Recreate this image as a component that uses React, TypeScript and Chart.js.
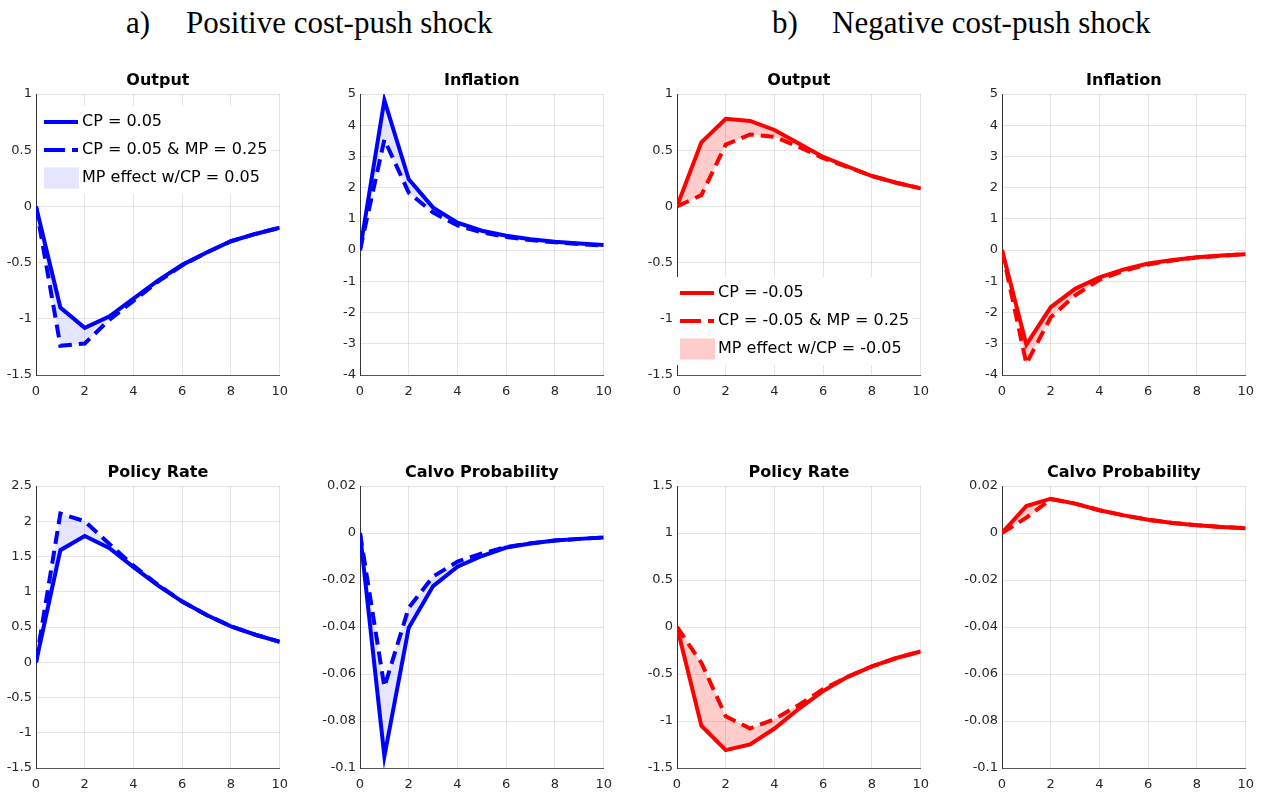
import React, { useEffect, useRef } from 'react';
import { Chart, registerables } from 'chart.js';

Chart.register(...registerables);

const FONT = "'DejaVu Sans', 'Noto Sans', sans-serif";
const SERIF = "'Liberation Serif', 'Times New Roman', serif";

// ---------- data ----------
const periods = [0, 1, 2, 3, 4, 5, 6, 7, 8, 9, 10];
const xTicks = [0, 2, 4, 6, 8, 10];

const outputTicks = [-1.5, -1, -0.5, 0, 0.5, 1];
const inflationTicks = [-4, -3, -2, -1, 0, 1, 2, 3, 4, 5];
const posRateTicks = [-1.5, -1, -0.5, 0, 0.5, 1, 1.5, 2, 2.5];
const negRateTicks = [-1.5, -1, -0.5, 0, 0.5, 1, 1.5];
const calvoTicks = [-0.1, -0.08, -0.06, -0.04, -0.02, 0, 0.02];

const posOutputCP = [0, -0.9, -1.08, -0.98, -0.82, -0.66, -0.52, -0.41, -0.31, -0.245, -0.19];
const posOutputMP = [0, -1.24, -1.22, -1.01, -0.84, -0.67, -0.525, -0.41, -0.31, -0.245, -0.19];
const posInflCP = [0, 4.8, 2.27, 1.36, 0.88, 0.62, 0.46, 0.35, 0.27, 0.21, 0.16];
const posInflMP = [0, 3.54, 1.84, 1.2, 0.79, 0.57, 0.42, 0.32, 0.25, 0.19, 0.15];
const posRateCP = [0, 1.59, 1.79, 1.62, 1.35, 1.09, 0.86, 0.67, 0.51, 0.39, 0.29];
const posRateMP = [0, 2.11, 2.0, 1.68, 1.37, 1.1, 0.86, 0.67, 0.51, 0.39, 0.29];
const posCalvoCP = [0, -0.095, -0.0403, -0.0226, -0.0143, -0.0098, -0.0062, -0.0045, -0.0032, -0.0025, -0.0019];
const posCalvoMP = [0, -0.0655, -0.0318, -0.0185, -0.0122, -0.0087, -0.006, -0.0044, -0.0032, -0.0025, -0.0019];

const negOutputCP = [0, 0.57, 0.78, 0.76, 0.68, 0.56, 0.44, 0.355, 0.27, 0.21, 0.16];
const negOutputMP = [0, 0.1, 0.55, 0.64, 0.62, 0.53, 0.43, 0.35, 0.27, 0.21, 0.16];
const negInflCP = [0, -3.03, -1.83, -1.24, -0.87, -0.62, -0.43, -0.32, -0.23, -0.17, -0.13];
const negInflMP = [0, -3.64, -2.15, -1.45, -0.95, -0.66, -0.46, -0.33, -0.24, -0.18, -0.13];
const negRateCP = [0, -1.05, -1.31, -1.25, -1.08, -0.87, -0.68, -0.53, -0.42, -0.33, -0.26];
const negRateMP = [0, -0.38, -0.95, -1.08, -0.98, -0.83, -0.66, -0.53, -0.42, -0.33, -0.26];
const negCalvoCP = [0, 0.0115, 0.0146, 0.0125, 0.0097, 0.0075, 0.0056, 0.0043, 0.0033, 0.0026, 0.002];
const negCalvoMP = [0, 0.0065, 0.0144, 0.0125, 0.0097, 0.0075, 0.0056, 0.0043, 0.0033, 0.0026, 0.002];

const posLegend = ['CP = 0.05', 'CP = 0.05 & MP = 0.25', 'MP effect w/CP = 0.05'];
const negLegend = ['CP = -0.05', 'CP = -0.05 & MP = 0.25', 'MP effect w/CP = -0.05'];

const headings = [
  { tag: 'a)', text: 'Positive cost-push shock' },
  { tag: 'b)', text: 'Negative cost-push shock' },
];

// ---------- styles ----------
const BLUE = '#0000ff';
const RED = '#ff0000';
const BLUE_FILL = 'rgba(0,0,255,0.1)';
const RED_FILL = 'rgba(255,0,0,0.2)';
const LW = 4;

type LegendSpec = { labels: string[]; x: number; y: number; gap: number };
type PanelSpec = {
  title: string;
  cp: number[];
  mp: number[];
  ticks: number[];
  color: string;
  fill: string;
  left: number;
  top: number;
  width: number;
  height: number;
  legend?: LegendSpec;
};

const colLeft = [36, 360, 677, 1002];
const rowTop = [94, 486];
const PW = 246;
const PH = [281, 282];

const panels: PanelSpec[] = [
  { title: 'Output', cp: posOutputCP, mp: posOutputMP, ticks: outputTicks, color: BLUE, fill: BLUE_FILL, left: colLeft[0], top: rowTop[0], width: PW, height: PH[0], legend: { labels: posLegend, x: 8, y: 28, gap: 28 } },
  { title: 'Inflation', cp: posInflCP, mp: posInflMP, ticks: inflationTicks, color: BLUE, fill: BLUE_FILL, left: colLeft[1], top: rowTop[0], width: PW, height: PH[0] },
  { title: 'Output', cp: negOutputCP, mp: negOutputMP, ticks: outputTicks, color: RED, fill: RED_FILL, left: colLeft[2], top: rowTop[0], width: PW, height: PH[0], legend: { labels: negLegend, x: 3, y: 199, gap: 28 } },
  { title: 'Inflation', cp: negInflCP, mp: negInflMP, ticks: inflationTicks, color: RED, fill: RED_FILL, left: colLeft[3], top: rowTop[0], width: PW, height: PH[0] },
  { title: 'Policy Rate', cp: posRateCP, mp: posRateMP, ticks: posRateTicks, color: BLUE, fill: BLUE_FILL, left: colLeft[0], top: rowTop[1], width: PW, height: PH[1] },
  { title: 'Calvo Probability', cp: posCalvoCP, mp: posCalvoMP, ticks: calvoTicks, color: BLUE, fill: BLUE_FILL, left: colLeft[1], top: rowTop[1], width: PW, height: PH[1] },
  { title: 'Policy Rate', cp: negRateCP, mp: negRateMP, ticks: negRateTicks, color: RED, fill: RED_FILL, left: colLeft[2], top: rowTop[1], width: PW, height: PH[1] },
  { title: 'Calvo Probability', cp: negCalvoCP, mp: negCalvoMP, ticks: calvoTicks, color: RED, fill: RED_FILL, left: colLeft[3], top: rowTop[1], width: PW, height: PH[1] },
];

const PAD_L = 45;
const PAD_T = 30;
const PAD_R = 15;
const PAD_B = 28;

const decorPlugin = {
  id: 'decor',
  afterDraw(chart: any, _args: any, opts: any) {
    const { ctx, chartArea } = chart;
    ctx.save();
    ctx.fillStyle = '#000';
    ctx.font = `bold 16px ${FONT}`;
    ctx.textAlign = 'center';
    ctx.textBaseline = 'middle';
    ctx.fillText(opts.title, (chartArea.left + chartArea.right) / 2, chartArea.top - 13);
    const lg = opts.legend;
    if (lg) {
      ctx.font = `16px ${FONT}`;
      const x0 = chartArea.left + lg.x;
      const maxW = Math.max(...lg.labels.map((l: string) => ctx.measureText(l).width));
      const y0 = chartArea.top + lg.y;
      ctx.fillStyle = '#ffffff';
      ctx.fillRect(x0 - 5, y0 - 16, 38 + maxW + 8, lg.gap * (lg.labels.length - 1) + 32);
      lg.labels.forEach((lab: string, i: number) => {
        const cy = y0 + i * lg.gap;
        if (i < 2) {
          ctx.strokeStyle = opts.color;
          ctx.lineWidth = LW;
          ctx.setLineDash(i === 1 ? [21, 7] : []);
          ctx.beginPath();
          ctx.moveTo(x0, cy);
          ctx.lineTo(x0 + 34, cy);
          ctx.stroke();
          ctx.setLineDash([]);
        } else {
          ctx.fillStyle = opts.fill;
          ctx.fillRect(x0, cy - 10.5, 35, 21);
        }
        ctx.fillStyle = '#000';
        ctx.textAlign = 'left';
        ctx.textBaseline = 'middle';
        ctx.fillText(lab, x0 + 38, cy);
      });
    }
    ctx.restore();
  },
};

const fmt = (v: number) => String(Number(v.toFixed(4)));

function Panel({ spec }: { spec: PanelSpec }) {
  const ref = useRef<HTMLCanvasElement | null>(null);
  const cw = spec.width + PAD_L + PAD_R;
  const ch = spec.height + PAD_T + PAD_B;
  useEffect(() => {
    if (!ref.current) return;
    const chart = new Chart(ref.current, {
      type: 'line',
      data: {
        datasets: [
          {
            label: 'cp',
            data: periods.map((p, i) => ({ x: p, y: spec.cp[i] })),
            borderColor: spec.color,
            borderWidth: LW,
            pointRadius: 0,
            tension: 0,
            fill: false,
          },
          {
            label: 'mp',
            data: periods.map((p, i) => ({ x: p, y: spec.mp[i] })),
            borderColor: spec.color,
            borderWidth: LW,
            borderDash: [13, 7],
            pointRadius: 0,
            tension: 0,
            fill: '-1',
            backgroundColor: spec.fill,
          },
        ],
      },
      options: {
        animation: false,
        responsive: false,
        maintainAspectRatio: false,
        layout: { padding: { left: 0, top: PAD_T, right: PAD_R, bottom: 0 } },
        plugins: {
          legend: { display: false },
          tooltip: { enabled: false },
          title: { display: false },
          decor: { title: spec.title, legend: spec.legend, color: spec.color, fill: spec.fill },
        } as any,
        scales: {
          x: {
            type: 'linear',
            min: 0,
            max: 10,
            afterBuildTicks: (s: any) => { s.ticks = xTicks.map((v) => ({ value: v })); },
            afterFit: (s: any) => { s.height = PAD_B; },
            grid: { color: 'rgba(38,38,38,0.12)', drawTicks: false, lineWidth: 1 },
            border: { display: true, color: '#555555', width: 1 },
            ticks: { color: '#262626', font: { family: FONT, size: 13 }, padding: 9, maxRotation: 0, callback: (v: any) => fmt(Number(v)) },
          },
          y: {
            type: 'linear',
            min: spec.ticks[0],
            max: spec.ticks[spec.ticks.length - 1],
            afterBuildTicks: (s: any) => { s.ticks = spec.ticks.map((v) => ({ value: v })); },
            afterFit: (s: any) => { s.width = PAD_L; },
            grid: { color: 'rgba(38,38,38,0.12)', drawTicks: false, lineWidth: 1 },
            border: { display: true, color: '#333333', width: 1 },
            ticks: { color: '#262626', font: { family: FONT, size: 13 }, padding: 4, callback: (v: any) => fmt(Number(v)) },
          },
        },
      } as any,
      plugins: [decorPlugin as any],
    });
    return () => chart.destroy();
  }, [spec]);
  return (
    <canvas
      ref={ref}
      width={cw}
      height={ch}
      style={{ position: 'absolute', left: spec.left - PAD_L, top: spec.top - PAD_T, width: cw, height: ch }}
    />
  );
}

export default function App() {
  const headPos = [
    { tagX: 126, textX: 186 },
    { tagX: 772, textX: 832 },
  ];
  return (
    <div style={{ position: 'fixed', left: 0, top: 0, width: 1265, height: 792, background: '#ffffff', overflow: 'hidden' }}>
      {headings.map((h, i) => (
        <React.Fragment key={i}>
          <div style={{ position: 'absolute', left: headPos[i].tagX, top: 7, font: `31px ${SERIF}`, lineHeight: '31px', color: '#000', whiteSpace: 'nowrap' }}>{h.tag}</div>
          <div style={{ position: 'absolute', left: headPos[i].textX, top: 7, font: `31px ${SERIF}`, lineHeight: '31px', color: '#000', whiteSpace: 'nowrap' }}>{h.text}</div>
        </React.Fragment>
      ))}
      {panels.map((p, i) => (
        <Panel key={i} spec={p} />
      ))}
    </div>
  );
}
